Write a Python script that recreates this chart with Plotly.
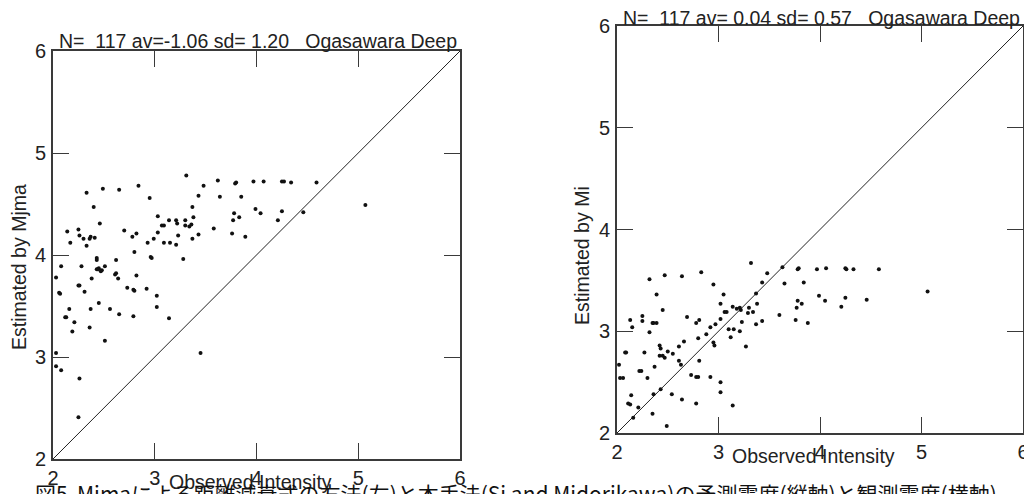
import plotly.graph_objects as go

# ---- Left panel: Observed intensity vs intensity estimated by Mjma ----
obs_mjma = [3.31, 3.62, 3.80, 3.79, 3.97, 4.07, 4.25, 4.27, 4.34, 4.59, 3.48, 2.84, 2.65, 2.49, 2.33,
            2.95, 3.43, 3.64, 3.85, 5.07, 2.40, 3.37, 3.99, 4.04, 3.78, 4.25, 4.46, 3.83, 3.03, 3.38,
            3.77, 4.21, 3.14, 3.21, 3.30, 2.46, 3.22, 3.07, 3.09, 3.30, 3.34, 3.58, 2.14, 2.25, 2.70,
            3.03, 2.82, 3.76, 2.26, 2.78, 3.23, 3.43, 2.37, 2.41, 2.36, 2.99, 3.37, 3.89, 2.17, 2.93,
            3.09, 3.15, 3.21, 2.33, 2.96, 2.97, 3.28, 2.62, 2.43, 2.43, 2.08, 2.28, 2.51, 2.43, 2.45,
            2.48, 2.47, 2.03, 2.38, 2.61, 2.64, 2.82, 2.25, 2.26, 2.31, 2.06, 2.07, 2.73, 2.79, 2.80,
            2.92, 3.02, 2.45, 2.16, 2.37, 3.02, 2.56, 2.12, 2.13, 2.65, 2.79, 3.14, 2.21, 2.36, 2.19,
            2.51, 2.03, 3.45, 2.03, 2.08, 2.26, 2.25, 2.80, 2.44, 3.36, 2.62, 2.30]
est_mjma = [4.78, 4.73, 4.71, 4.70, 4.72, 4.72, 4.72, 4.72, 4.71, 4.71, 4.68, 4.68, 4.64, 4.65, 4.61,
            4.56, 4.58, 4.57, 4.57, 4.49, 4.47, 4.47, 4.45, 4.41, 4.41, 4.43, 4.42, 4.37, 4.38, 4.37,
            4.34, 4.34, 4.34, 4.34, 4.34, 4.31, 4.31, 4.29, 4.29, 4.29, 4.28, 4.26, 4.23, 4.25, 4.24,
            4.22, 4.21, 4.21, 4.19, 4.18, 4.19, 4.20, 4.18, 4.17, 4.16, 4.16, 4.16, 4.18, 4.12, 4.12,
            4.12, 4.12, 4.10, 4.09, 3.98, 3.97, 3.96, 3.95, 3.97, 3.95, 3.89, 3.89, 3.89, 3.86, 3.87,
            3.85, 3.84, 3.78, 3.77, 3.81, 3.77, 3.80, 3.70, 3.70, 3.64, 3.63, 3.62, 3.68, 3.66, 3.65,
            3.67, 3.60, 3.53, 3.47, 3.47, 3.49, 3.47, 3.39, 3.39, 3.42, 3.40, 3.38, 3.34, 3.29, 3.25,
            3.16, 3.04, 3.04, 2.91, 2.87, 2.79, 2.41, 4.03, 3.86, 4.30, 3.82, 4.16]

# ---- Right panel: Observed intensity vs intensity estimated by Mi ----
obs_mi = [3.32, 3.63, 3.78, 3.79, 3.97, 4.06, 4.25, 4.26, 4.33, 4.58, 2.83, 3.48, 2.47, 2.64, 2.32,
          2.95, 3.43, 3.65, 3.84, 5.06, 2.39, 3.37, 3.99, 4.05, 3.78, 4.25, 4.46, 3.82, 3.02, 3.38,
          3.77, 4.21, 3.14, 3.21, 3.30, 2.45, 3.22, 3.06, 3.08, 3.29, 3.34, 3.60, 2.25, 2.69, 2.13,
          2.81, 3.02, 3.76, 2.25, 2.78, 3.23, 3.43, 2.35, 2.36, 2.39, 2.97, 3.37, 3.88, 2.92, 2.15,
          3.10, 3.15, 3.21, 2.32, 2.80, 2.95, 2.96, 3.27, 2.42, 2.43, 2.61, 2.08, 2.09, 2.27, 2.50,
          2.42, 2.45, 2.47, 2.61, 2.81, 2.02, 2.63, 2.37, 2.22, 2.24, 2.73, 2.78, 2.80, 2.92, 2.03,
          2.06, 2.30, 3.02, 3.02, 2.43, 2.54, 2.36, 2.14, 2.64, 2.11, 2.13, 2.78, 3.14, 2.21, 2.16,
          2.35, 2.49, 3.12, 2.55, 3.05, 2.88, 3.18, 2.66]
est_mi = [3.67, 3.63, 3.61, 3.62, 3.61, 3.62, 3.62, 3.61, 3.61, 3.61, 3.58, 3.57, 3.55, 3.54, 3.51,
          3.46, 3.48, 3.47, 3.48, 3.39, 3.36, 3.37, 3.35, 3.30, 3.30, 3.33, 3.31, 3.27, 3.27, 3.27,
          3.23, 3.24, 3.24, 3.23, 3.23, 3.21, 3.21, 3.19, 3.19, 3.18, 3.19, 3.16, 3.15, 3.14, 3.11,
          3.11, 3.12, 3.11, 3.10, 3.08, 3.09, 3.10, 3.08, 3.08, 3.08, 3.07, 3.07, 3.08, 3.04, 3.04,
          3.02, 3.02, 3.00, 2.99, 2.93, 2.89, 2.86, 2.85, 2.86, 2.83, 2.85, 2.79, 2.79, 2.79, 2.80,
          2.76, 2.76, 2.74, 2.71, 2.71, 2.67, 2.67, 2.65, 2.61, 2.61, 2.57, 2.55, 2.55, 2.55, 2.54,
          2.54, 2.54, 2.50, 2.40, 2.43, 2.38, 2.38, 2.37, 2.33, 2.29, 2.28, 2.29, 2.27, 2.25, 2.15,
          2.19, 2.07, 2.94, 2.78, 3.36, 2.97, 3.22, 2.90]

diag = [2, 6]
ticks = [2, 3, 4, 5, 6]
title_left = "N=  117 av=-1.06 sd= 1.20   Ogasawara Deep"
title_right = "N=  117 av= 0.04 sd= 0.57   Ogasawara Deep"
caption = "図5  Mjmaによる距離減衰式の方法(左)と本手法(Si and Midorikawa)の予測震度(縦軸)と観測震度(横軸)"

W, H = 1032, 494
OFF = 8  # page body margin: figure is drawn 8 px from the window's top-left corner
FONT = "Liberation Sans, Arial, sans-serif"
LINE = "#3a3a3a"

def px_x(p):
    return (p - OFF) / W

def px_y(p):
    return 1 - (p - OFF) / H

# plot areas in window pixels (left, top, right, bottom)
L_box = (53, 51, 460, 459)
R_box = (617, 26, 1023, 433)

fig = go.Figure()

for i, (xs, ys) in enumerate([(obs_mjma, est_mjma), (obs_mi, est_mi)]):
    xa = "x" if i == 0 else "x2"
    ya = "y" if i == 0 else "y2"
    fig.add_trace(go.Scatter(x=diag, y=diag, mode="lines", xaxis=xa, yaxis=ya,
                             line=dict(color="#222", width=1), showlegend=False, hoverinfo="skip"))
    fig.add_trace(go.Scatter(x=xs, y=ys, mode="markers", xaxis=xa, yaxis=ya,
                             marker=dict(color="#111", size=4, symbol="circle"),
                             showlegend=False))

def axis_common():
    return dict(range=[2, 6], tickvals=ticks, ticktext=[str(t) for t in ticks],
                ticks="inside", ticklen=16, tickwidth=1.3, tickcolor=LINE,
                showline=True, linecolor=LINE, linewidth=1.6, mirror="ticks",
                showgrid=False, zeroline=False, automargin=False,
                tickfont=dict(family=FONT, size=20, color="#222"))

for i, box in enumerate([L_box, R_box]):
    sfx = "" if i == 0 else "2"
    xd = [px_x(box[0]), px_x(box[2])]
    yd = [px_y(box[3]), px_y(box[1])]
    xax = axis_common()
    xax.update(domain=xd, anchor="y" + sfx, ticklabelstandoff=0)
    yax = axis_common()
    yax.update(domain=yd, anchor="x" + sfx, ticklabelstandoff=1)
    fig.layout["xaxis" + sfx] = xax
    fig.layout["yaxis" + sfx] = yax

ann = []
# titles above each plot
ann.append(dict(text=title_left, x=px_x(258), y=px_y(54), xref="paper", yref="paper",
                xanchor="center", yanchor="bottom", showarrow=False,
                font=dict(family=FONT, size=19.5, color="#222")))
ann.append(dict(text=title_right, x=px_x(821), y=px_y(31), xref="paper", yref="paper",
                xanchor="center", yanchor="bottom", showarrow=False,
                font=dict(family=FONT, size=19.5, color="#222")))
# x axis titles
ann.append(dict(text="Observed Intensity", x=px_x(250), y=px_y(482), xref="paper", yref="paper",
                xanchor="center", yanchor="middle", showarrow=False,
                font=dict(family=FONT, size=19.5, color="#222")))
ann.append(dict(text="Observed Intensity", x=px_x(813), y=px_y(456), xref="paper", yref="paper",
                xanchor="center", yanchor="middle", showarrow=False,
                font=dict(family=FONT, size=19.5, color="#222")))
# y axis titles
ann.append(dict(text="Estimated by Mjma", x=px_x(19), y=px_y(267), xref="paper", yref="paper",
                xanchor="center", yanchor="middle", showarrow=False, textangle=-90,
                font=dict(family=FONT, size=19.5, color="#222")))
ann.append(dict(text="Estimated by Mi", x=px_x(582), y=px_y(256), xref="paper", yref="paper",
                xanchor="center", yanchor="middle", showarrow=False, textangle=-90,
                font=dict(family=FONT, size=19.5, color="#222")))
# caption, cut off at the bottom edge like the scanned page
ann.append(dict(text=caption, x=px_x(516), y=px_y(476), xref="paper", yref="paper",
                xanchor="center", yanchor="top", showarrow=False,
                font=dict(family="Noto Sans CJK JP", size=21, color="#111")))

fig.update_layout(width=W, height=H, margin=dict(l=0, r=0, t=0, b=0),
                  paper_bgcolor="white", plot_bgcolor="white",
                  annotations=ann, showlegend=False)

fig.write_html("out.html")
